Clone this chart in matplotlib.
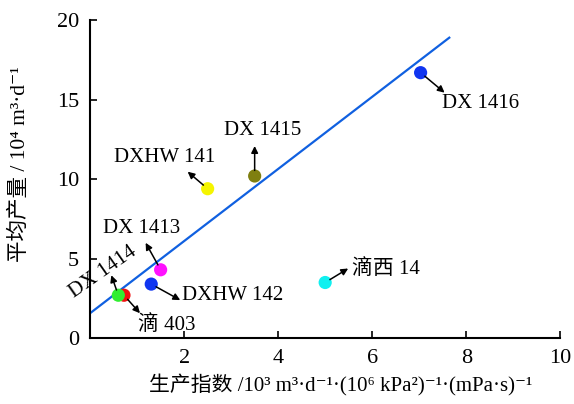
import matplotlib
matplotlib.use("Agg")
import matplotlib.pyplot as plt

plt.rcParams['font.family'] = ['Liberation Serif', 'Noto Sans CJK SC', 'DejaVu Serif']

# well data: productivity index vs average production
wells = ['DX 1416', 'DX 1415', 'DXHW 141', 'DX 1413', 'DXHW 142', '滴西 14', '滴 403', 'DX 1414']
prod_index = [7.03, 3.5, 2.5, 1.5, 1.3, 5.0, 0.72, 0.6]
avg_prod = [16.7, 10.2, 9.4, 4.3, 3.4, 3.5, 2.7, 2.7]
colors = ['#1035f0', '#7f7f10', '#f5f500', '#ff10ff', '#1035f0', '#10f0f0', '#f01010', '#30ee30']

# fitted trend line end points
fit_x = [0.0, 7.64]
fit_y = [1.57, 18.9]

# label layout: arrow tip offset and text offset (pixels), alignment, rotation
px = 0.72
layout = {
    'DX 1416': ((24, -20), (21, -31), 'left', 0),
    'DX 1415': ((0, 30), (8, 45), 'center', 0),
    'DXHW 141': ((-20, 17), (-43, 31), 'center', 0),
    'DX 1413': ((-15, 27), (-19, 41), 'center', 0),
    'DXHW 142': ((29, -16), (31, -11), 'left', 0),
    '滴西 14': ((23, 14), (27, 13), 'left', 0),
    '滴 403': ((16, -18), (43, -30), 'center', 0),
    'DX 1414': ((-7, 20), (-15, 23), 'center', 35),
}

fig = plt.figure(figsize=(5.74, 4.04), dpi=100)
ax = fig.add_axes([0.157, 0.163, 0.819, 0.787])

ax.plot(fit_x, fit_y, color='#1060e0', lw=1.6, zorder=2)

for name, x, y, c in zip(wells, prod_index, avg_prod, colors):
    ax.scatter(x, y, s=90, color=c, zorder=3, edgecolors='none')
    tip, txt, ha, rot = layout[name]
    ax.annotate('', xy=(x, y), xytext=(tip[0] * px, tip[1] * px), textcoords='offset points',
                arrowprops=dict(arrowstyle='<|-', color='black', lw=1.1, shrinkA=0, shrinkB=4,
                                mutation_scale=10))
    ax.annotate(name, xy=(x, y), xytext=(txt[0] * px, txt[1] * px), textcoords='offset points',
                ha=ha, va='center', fontsize=15, rotation=rot, rotation_mode='anchor')

ax.set_xlim(0, 10)
ax.set_ylim(0, 20)
ax.set_xticks([2, 4, 6, 8, 10])
ax.set_yticks([0, 5, 10, 15, 20])
ax.tick_params(direction='in', labelsize=16, length=5, width=1.2, pad=8)
for side in ['top', 'right']:
    ax.spines[side].set_visible(False)
for side in ['left', 'bottom']:
    ax.spines[side].set_linewidth(1.5)

ax.set_xlabel('生产指数 /10³ m³·d⁻¹·(10⁶ kPa²)⁻¹·(mPa·s)⁻¹', fontsize=15)
ax.set_ylabel('平均产量 / 10⁴ m³·d⁻¹', fontsize=15.5, va='center')
ax.xaxis.set_label_coords(0.533, -0.115)
ax.yaxis.set_label_coords(-0.15, 0.547)

fig.savefig('out.png', dpi=100)
